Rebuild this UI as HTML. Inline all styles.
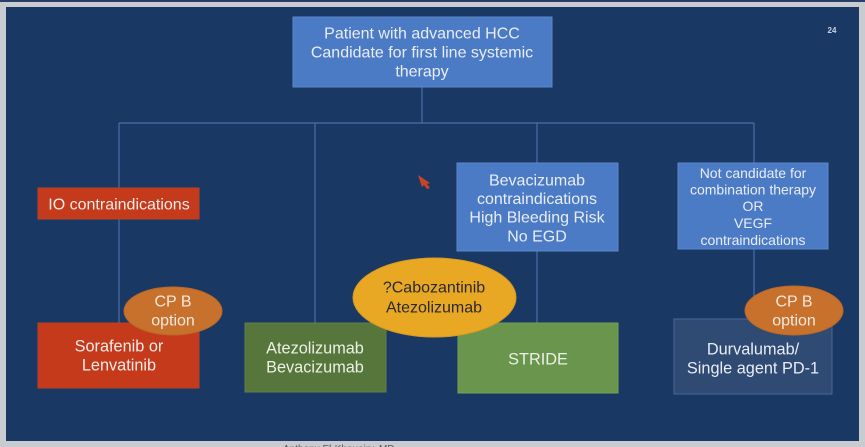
<!DOCTYPE html>
<html><head><meta charset="utf-8"><style>
html,body{margin:0;padding:0;background:#c9ccd0;}
svg{display:block;}
text{font-family:"Liberation Sans",Arial,sans-serif;}
</style></head><body>
<svg width="865" height="447" viewBox="0 0 865 447" xmlns="http://www.w3.org/2000/svg">
<rect x="0" y="0" width="865" height="447" fill="#c8cbcf"/>
<rect x="0" y="0" width="865" height="2" fill="#2a3f66"/>
<rect x="6" y="7" width="853" height="434" fill="#1a3864"/>
<text x="283" y="452" font-size="10" fill="#555" >Anthony El-Khoueiry, MD</text>
<text x="832" y="33" font-size="8" fill="#c8d2e2" font-weight="bold" text-anchor="middle">24</text>
<g stroke="#4a6fa6" stroke-width="1.2" fill="none">
<line x1="422" y1="87" x2="422" y2="123"/>
<line x1="119" y1="123" x2="754" y2="123"/>
<line x1="119" y1="123" x2="119" y2="323"/>
<line x1="315" y1="123" x2="315" y2="323"/>
<line x1="537" y1="123" x2="537" y2="323"/>
<line x1="754" y1="123" x2="754" y2="319"/>
</g>
<!-- top box -->
<rect x="293" y="17" width="259" height="70" fill="#4c7bc6" stroke="#5c88cc" stroke-width="1"/>
<g fill="#e8edf5" font-size="16" text-anchor="middle">
<text x="422" y="38.5">Patient with advanced HCC</text>
<text x="422" y="57.5">Candidate for first line systemic</text>
<text x="422" y="76.5">therapy</text>
</g>
<!-- IO -->
<rect x="38" y="188" width="161" height="31" fill="#c63a1c" stroke="#b8421f" stroke-width="1"/>
<text x="119" y="209.5" font-size="16" fill="#f0ece8" text-anchor="middle">IO contraindications</text>
<!-- Bev -->
<rect x="457" y="163" width="161" height="88" fill="#4c7bc6" stroke="#5c88cc" stroke-width="1"/>
<g fill="#e8edf5" font-size="16" text-anchor="middle">
<text x="537" y="185.5">Bevacizumab</text>
<text x="537" y="204">contraindications</text>
<text x="537" y="222.5">High Bleeding Risk</text>
<text x="537" y="241.5">No EGD</text>
</g>
<!-- Not candidate -->
<rect x="678" y="163" width="150" height="86" fill="#4c7bc6" stroke="#5c88cc" stroke-width="1"/>
<g fill="#e8edf5" font-size="14" text-anchor="middle">
<text x="753" y="178">Not candidate for</text>
<text x="753" y="194.5">combination therapy</text>
<text x="753" y="211">OR</text>
<text x="753" y="228">VEGF</text>
<text x="753" y="245">contraindications</text>
</g>
<!-- bottom boxes -->
<rect x="38" y="323" width="161" height="65" fill="#c63a1c" stroke="#b8421f" stroke-width="1"/>
<g fill="#f0ece8" font-size="16.3" text-anchor="middle">
<text x="119" y="351.5">Sorafenib or</text>
<text x="119" y="370.5">Lenvatinib</text>
</g>
<rect x="245" y="323" width="141" height="69" fill="#56763c" stroke="#627f46" stroke-width="1"/>
<g fill="#ecf0e6" font-size="16.3" text-anchor="middle">
<text x="315" y="353.5">Atezolizumab</text>
<text x="315" y="372.5">Bevacizumab</text>
</g>
<rect x="458" y="323" width="160" height="70" fill="#6a954c" stroke="#74a055" stroke-width="1"/>
<text x="538" y="364.5" font-size="16.3" fill="#ecf0e6" text-anchor="middle">STRIDE</text>
<rect x="674" y="319" width="158" height="75" fill="#2f4a73" stroke="#4a6896" stroke-width="1"/>
<g fill="#e8edf5" font-size="16.3" text-anchor="middle">
<text x="753" y="354.5">Durvalumab/</text>
<text x="753" y="373.5">Single agent PD-1</text>
</g>
<!-- ellipses -->
<ellipse cx="173" cy="311" rx="49" ry="24" fill="#c8712c" stroke="#b8682a" stroke-width="1"/>
<g fill="#f3e9de" font-size="16" text-anchor="middle">
<text x="173" y="306.5">CP B</text>
<text x="173" y="325.5">option</text>
</g>
<ellipse cx="794" cy="310.5" rx="49" ry="24.5" fill="#c8712c" stroke="#b8682a" stroke-width="1"/>
<g fill="#f3e9de" font-size="16" text-anchor="middle">
<text x="794" y="306.5">CP B</text>
<text x="794" y="325.5">option</text>
</g>
<ellipse cx="434.5" cy="297.5" rx="81.5" ry="39.5" fill="#e9a823" stroke="#d89a20" stroke-width="1"/>
<g fill="#2a2a2e" font-size="16" text-anchor="middle">
<text x="434" y="292.5">?Cabozantinib</text>
<text x="434" y="312.5">Atezolizumab</text>
</g>
<!-- cursor -->
<polygon points="418,175 430,183 427,184 430,188 427,189 424,185 422,187" fill="#e8461a" opacity="0.85"/>
</svg>
</body></html>
